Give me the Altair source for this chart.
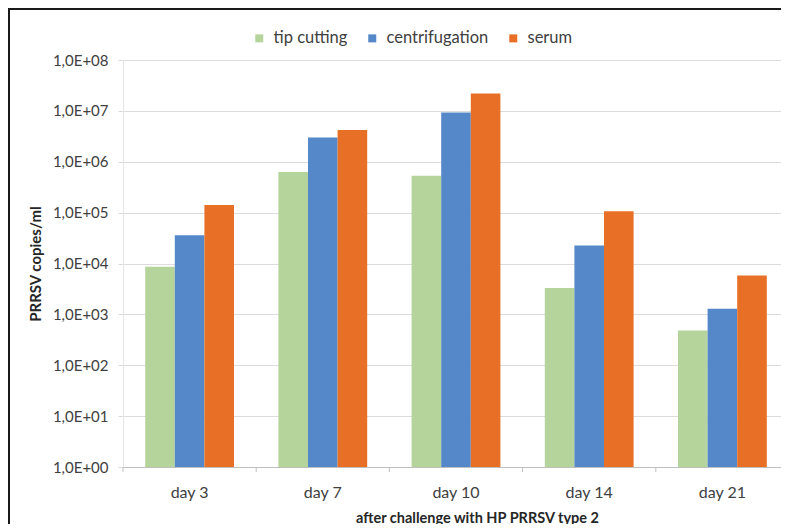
import altair as alt
import pandas as pd

days = ["day 3", "day 7", "day 10", "day 14", "day 21"]
series = ["tip cutting", "centrifugation", "serum"]
tip_cutting = [8.6e3, 6.3e5, 5.3e5, 3.3e3, 4.8e2]
centrifugation = [3.6e4, 3.0e6, 9.3e6, 2.26e4, 1.29e3]
serum = [1.41e5, 4.2e6, 2.2e7, 1.06e5, 5.8e3]
colors = ["#B4D49B", "#5588C8", "#E87026"]
y_ticks = [1, 10, 100, 1e3, 1e4, 1e5, 1e6, 1e7, 1e8]
y_base = 1

rows = []
for name, vals in zip(series, [tip_cutting, centrifugation, serum]):
    for d, v in zip(days, vals):
        rows.append({"day": d, "series": name, "value": v, "base": y_base})
df = pd.DataFrame(rows)
cats = pd.DataFrame({"day": days})

# visible plot width (the original plot area runs past the right edge of the image)
W, H = 658, 407
X_RANGE = 666
FONT = "Lato"

x_scale = alt.Scale(type="band", domain=days, paddingInner=0, paddingOuter=0, range=[0, X_RANGE])
y_scale = alt.Scale(type="log", domain=[1, 1e8], nice=False)

bars = alt.Chart(df).mark_bar().encode(
    x=alt.X("day:N", sort=days, scale=x_scale,
            axis=alt.Axis(title="after challenge with HP PRRSV type 2", ticks=False,
                          domainColor="#bfbfbf", domainWidth=1, labelAngle=0,
                          labelFontSize=16, labelPadding=17, labelColor="#404040",
                          titleFontSize=14.5, titleFontWeight="bold", titleColor="#262626",
                          titleX=354, titleY=51, titleBaseline="middle")),
    xOffset=alt.XOffset("series:N", sort=series,
                        scale=alt.Scale(type="band", domain=series, paddingInner=0, paddingOuter=0.75)),
    y=alt.Y("value:Q", scale=y_scale, stack=None,
            axis=alt.Axis(title="PRRSV copies/ml", values=y_ticks,
                          labelExpr="'1,0E+' + (round(log(datum.value)/LN10) < 10 ? '0' : '') + round(log(datum.value)/LN10)",
                          labelFontSize=15, labelColor="#404040", labelPadding=10,
                          tickSize=5, tickColor="#d9d9d9", domainColor="#e6e6e6",
                          gridColor="#dcdcdc", grid=True,
                          titleFontSize=15, titleFontWeight="bold", titleColor="#262626",
                          titleX=-88, titleY=H / 2, titleBaseline="middle")),
    y2=alt.Y2("base:Q"),
    color=alt.Color("series:N", sort=series,
                    scale=alt.Scale(domain=series, range=colors),
                    legend=alt.Legend(title=None, orient="none", legendX=128, legendY=-30,
                                      direction="horizontal", symbolType="square",
                                      symbolSize=64, symbolStrokeWidth=0,
                                      labelFontSize=16.5, labelColor="#404040",
                                      columnPadding=16, labelOffset=6)),
)

sep_ticks = alt.Chart(cats).mark_rule(color="#bfbfbf", strokeWidth=1).encode(
    x=alt.X("day:N", sort=days, scale=x_scale, bandPosition=0),
    y=alt.value(H),
    y2=alt.value(H + 5),
)

border = alt.Chart(pd.DataFrame({"k": [0]}))
left_line = border.mark_rule(color="#1a1a1a", strokeWidth=2).encode(
    x=alt.value(-114), y=alt.value(-51), y2=alt.value(H + 57)
)
top_line = border.mark_rule(color="#1a1a1a", strokeWidth=2).encode(
    x=alt.value(-115), x2=alt.value(W), y=alt.value(-51)
)

chart = alt.layer(bars, sep_ticks, left_line, top_line).properties(
    width=W, height=H,
    autosize=alt.AutoSizeParams(type="none"),
    padding={"left": 115, "top": 52, "right": 0, "bottom": 57},
).configure(font=FONT).configure_view(stroke=None)

chart.save("out.html", embed_options={"renderer": "svg", "actions": False})
